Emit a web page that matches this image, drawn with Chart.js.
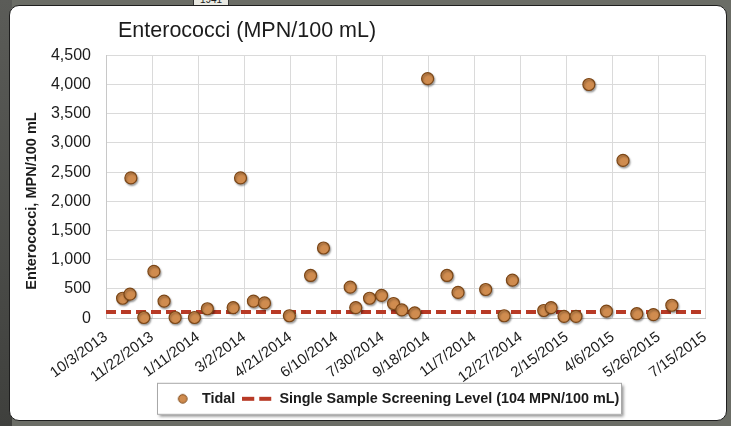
<!DOCTYPE html>
<html>
<head>
<meta charset="utf-8">
<title>Enterococci</title>
<script src="https://cdn.jsdelivr.net/npm/chart.js@4/dist/chart.umd.min.js"></script>
<style>
    html, body {
        margin: 0;
        padding: 0;
        width: 731px;
        height: 426px;
        overflow: hidden;
        background: #6b6d66;
        position: relative;
    }
    .map-left {
        position: absolute;
        left: 0; top: 0;
        width: 12px; height: 426px;
        background: #45464200;
        background: linear-gradient(#5b5c58, #3f403d);
    }
    .map-tag {
        position: absolute;
        left: 193px; top: -7px;
        width: 34px; height: 12px;
        background: #e9e9e2;
        border: 1px solid #333;
        font: 10px "Liberation Sans", Arial, sans-serif;
        text-align: center;
        line-height: 12px;
        color: #222;
    }
    .card {
        position: absolute;
        left: 9px; top: 5px;
        width: 716px; height: 414px;
        background: #fff;
        border: 1px solid #1e1e1e;
        border-radius: 10px;
        overflow: hidden;
    }
    .card canvas {
        position: absolute;
        left: 0; top: 0;
    }
</style>
</head>
<body>
<div class="map-left"></div>
<div class="map-tag">1941</div>
<div class="card">
    <canvas id="enteroChart" width="716" height="414"></canvas>
</div>
<script>
// ---- Data ----
const tickLabels = ['10/3/2013', '11/22/2013', '1/11/2014', '3/2/2014', '4/21/2014', '6/10/2014',
    '7/30/2014', '9/18/2014', '11/7/2014', '12/27/2014', '2/15/2015', '4/6/2015', '5/26/2015', '7/15/2015'];

const sampleDates = ['10/21/2013', '10/29/2013', '10/30/2013', '11/13/2013', '11/24/2013', '12/5/2013',
    '12/17/2013', '1/7/2014', '1/21/2014', '2/18/2014', '2/26/2014', '3/12/2014', '3/24/2014',
    '4/20/2014', '5/13/2014', '5/27/2014', '6/25/2014', '7/1/2014', '7/16/2014', '7/29/2014',
    '8/11/2014', '8/20/2014', '9/3/2014', '9/17/2014', '10/8/2014', '10/20/2014', '11/19/2014',
    '12/9/2014', '12/18/2014', '1/21/2015', '1/29/2015', '2/12/2015', '2/25/2015', '3/11/2015',
    '3/30/2015', '4/17/2015', '5/2/2015', '5/20/2015', '6/9/2015'];

const tidalValues = [340, 410, 2400, 10, 800, 290, 10, 10, 160, 180, 2400, 290, 260,
    40, 730, 1200, 530, 180, 340, 390, 250, 140, 90, 4100, 730, 440, 490,
    40, 650, 130, 180, 30, 30, 4000, 120, 2700, 75, 60, 220];

const screeningLevel = 104;
const yTicks = [0, 4500, 500]; // min, max, step

const labels = {
    title: 'Enterococci (MPN/100 mL)',
    yAxis: 'Enterococci, MPN/100 mL',
    tidal: 'Tidal',
    screening: 'Single Sample Screening Level (104 MPN/100 mL)'
};

// ---- Helpers ----
const FONT = '"Liberation Sans", Arial, Helvetica, sans-serif';
const colors = {
    dotFill: '#d08c4f',
    dotEdge: '#7b4616',
    dash: '#b83a26',
    grid: '#dadada',
    text: '#1c1c1c'
};

// days since the first tick date
function dayOffset(str) {
    const [m, d, y] = str.split('/').map(Number);
    const [m0, d0, y0] = tickLabels[0].split('/').map(Number);
    return (Date.UTC(y, m - 1, d) - Date.UTC(y0, m0 - 1, d0)) / 86400000;
}

const xMax = dayOffset(tickLabels[tickLabels.length - 1]);
const xStep = dayOffset(tickLabels[1]);

// legend icons (circle marker and dashed line)
function makeDotIcon() {
    const c = document.createElement('canvas');
    c.width = 30; c.height = 14;
    const g = c.getContext('2d');
    g.beginPath();
    g.arc(18, 7, 4.3, 0, Math.PI * 2);
    g.fillStyle = colors.dotFill;
    g.fill();
    g.lineWidth = 1;
    g.strokeStyle = colors.dotEdge;
    g.stroke();
    return c;
}

function makeDashIcon() {
    const c = document.createElement('canvas');
    c.width = 30; c.height = 14;
    const g = c.getContext('2d');
    g.fillStyle = colors.dash;
    g.fillRect(0, 5, 12, 4);
    g.fillRect(17, 5, 12, 4);
    return c;
}

const legendIcons = [makeDotIcon(), makeDashIcon()];

// ---- Plugins ----
// move title and legend to where the original has them
const placeBlocks = {
    id: 'placeBlocks',
    afterLayout(chart) {
        if (chart.titleBlock) {
            chart.titleBlock.left = 108;
        }
        if (chart.legend) {
            chart.legend.left = 154.7 - chart.legend.options.labels.padding;
        }
    }
};

// framed legend with drop shadow + shadows under the markers
const decorations = {
    id: 'decorations',
    beforeDraw(chart) {
        const hb = chart.legend && chart.legend.legendHitBoxes;
        if (!hb || !hb.length) return;
        const ctx = chart.ctx;
        const cy = hb[0].top + hb[0].height / 2;
        const left = hb[0].left - 7.7;
        const right = 612;
        ctx.save();
        ctx.shadowColor = 'rgba(0,0,0,0.45)';
        ctx.shadowBlur = 3;
        ctx.shadowOffsetX = 1.5;
        ctx.shadowOffsetY = 2;
        ctx.fillStyle = '#fff';
        ctx.fillRect(left, cy - 16, right - left, 32);
        ctx.restore();
        ctx.save();
        ctx.strokeStyle = '#a8a8a8';
        ctx.lineWidth = 1;
        ctx.strokeRect(left + 0.5, cy - 15.5, right - left - 1, 31);
        ctx.restore();
    },
    beforeDatasetDraw(chart, args) {
        if (args.index !== 0) return;
        const ctx = chart.ctx;
        ctx.save();
        ctx.shadowColor = 'rgba(0,0,0,0.35)';
        ctx.shadowBlur = 2;
        ctx.shadowOffsetX = 1;
        ctx.shadowOffsetY = 1.5;
    },
    afterDatasetDraw(chart, args) {
        if (args.index !== 0) return;
        chart.ctx.restore();
    },
    afterDraw(chart) {
        // y axis title
        const ctx = chart.ctx;
        ctx.save();
        ctx.translate(22, 195);
        ctx.rotate(-Math.PI / 2);
        ctx.font = 'bold 14.5px ' + FONT;
        ctx.fillStyle = colors.text;
        ctx.textAlign = 'center';
        ctx.textBaseline = 'middle';
        ctx.fillText(labels.yAxis, 0, 0);
        ctx.restore();
    }
};

// ---- Chart ----
const tidalPoints = sampleDates.map((d, i) => ({ x: dayOffset(d), y: tidalValues[i] }));
const screeningPoints = [{ x: 0, y: screeningLevel }, { x: xMax, y: screeningLevel }];

const ctx = document.getElementById('enteroChart').getContext('2d');

const chart = new Chart(ctx, {
    type: 'scatter',
    data: {
        datasets: [
            {
                label: labels.tidal,
                data: tidalPoints,
                pointRadius: 6,
                pointHoverRadius: 6,
                pointBackgroundColor: colors.dotFill,
                pointBorderColor: colors.dotEdge,
                pointBorderWidth: 1.2,
                clip: false
            },
            {
                type: 'line',
                label: labels.screening,
                data: screeningPoints,
                borderColor: colors.dash,
                borderWidth: 4,
                borderDash: [10, 5],
                pointRadius: 0,
                fill: false
            }
        ]
    },
    options: {
        responsive: false,
        animation: false,
        layout: {
            padding: { left: 0, right: 21, top: 0, bottom: 4 }
        },
        plugins: {
            title: {
                display: true,
                text: labels.title,
                align: 'start',
                color: colors.text,
                font: { family: FONT, size: 21.5, weight: 'normal' },
                padding: { top: 12, bottom: 11.5 }
            },
            legend: {
                position: 'bottom',
                align: 'start',
                labels: {
                    usePointStyle: true,
                    pointStyleWidth: 30,
                    padding: 7,
                    color: colors.text,
                    font: { family: FONT, size: 14.4, weight: 'bold' },
                    generateLabels: (c) => c.data.datasets.map((ds, i) => ({
                        text: ds.label,
                        pointStyle: legendIcons[i],
                        fillStyle: 'transparent',
                        strokeStyle: 'transparent',
                        lineWidth: 0,
                        fontColor: colors.text,
                        hidden: false,
                        datasetIndex: i
                    }))
                }
            },
            tooltip: { enabled: false }
        },
        scales: {
            x: {
                type: 'linear',
                min: 0,
                max: xMax,
                afterFit: (scale) => { scale.height = 66.5; },
                afterBuildTicks: (scale) => {
                    scale.ticks = tickLabels.map((_, i) => ({ value: i * xStep }));
                },
                ticks: {
                    autoSkip: false,
                    maxRotation: 36,
                    minRotation: 36,
                    padding: 10,
                    color: colors.text,
                    font: { family: FONT, size: 15 },
                    callback: (val, i) => tickLabels[i]
                },
                grid: { color: colors.grid, drawTicks: false },
                border: { color: '#c8c8c8' }
            },
            y: {
                min: yTicks[0],
                max: yTicks[1],
                afterFit: (scale) => { scale.width = 96; },
                ticks: {
                    stepSize: yTicks[2],
                    padding: 15,
                    color: colors.text,
                    font: { family: FONT, size: 16 },
                    callback: (val) => val.toLocaleString('en-US')
                },
                grid: { color: colors.grid, drawTicks: false },
                border: { color: '#c8c8c8' }
            }
        }
    },
    plugins: [placeBlocks, decorations]
});
</script>
</body>
</html>
